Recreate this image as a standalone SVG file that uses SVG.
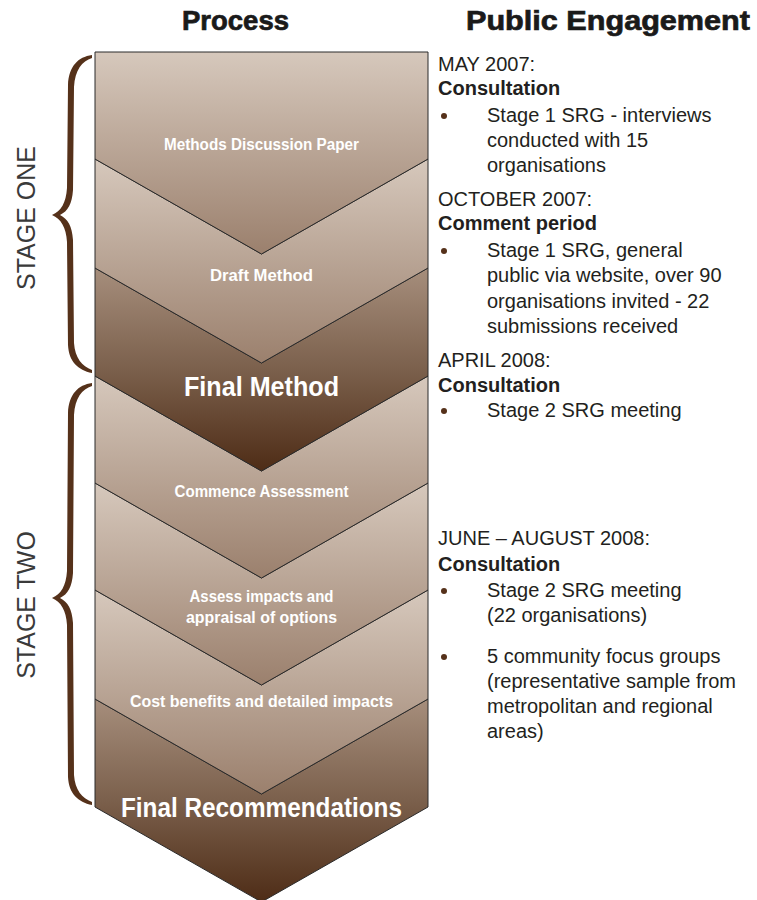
<svg xmlns="http://www.w3.org/2000/svg" width="757" height="900" viewBox="0 0 757 900">
<defs>
<linearGradient id="gLight" x1="0" y1="0" x2="0" y2="1">
<stop offset="0" stop-color="#d6c8bc"/>
<stop offset="1" stop-color="#9b806d"/>
</linearGradient>
<linearGradient id="gDark" x1="0" y1="0" x2="0" y2="1">
<stop offset="0" stop-color="#a68e7c"/>
<stop offset="0.5" stop-color="#7b604c"/>
<stop offset="1" stop-color="#4e2c16"/>
</linearGradient>
</defs>
<style>
.light{fill:url(#gLight);stroke:#2a2a2a;stroke-width:1}
.dark{fill:url(#gDark);stroke:#2a2a2a;stroke-width:1}
.lbl{font-family:"Liberation Sans",Arial,sans-serif;font-weight:bold;fill:#ffffff;text-anchor:middle;font-size:16px}
.big{font-size:27px}
.hdr{font-family:"Liberation Sans",Arial,sans-serif;font-weight:bold;fill:#1a1a1a;stroke:#1a1a1a;stroke-width:0.7;font-size:27px}
.body{font-family:"Liberation Sans",Arial,sans-serif;fill:#231f20;font-size:20px}
.bold{font-weight:bold}
.stage{font-family:"Liberation Sans",Arial,sans-serif;fill:#3a3a3a;font-size:25px;text-anchor:middle}
.brace{fill:#55311a}
.bullet{fill:#55311a}
</style>
<rect width="757" height="900" fill="#ffffff"/>
<g id="headers">
<text class="hdr" x="182" y="30" textLength="107" lengthAdjust="spacingAndGlyphs">Process</text>
<text class="hdr" x="466" y="30" textLength="284" lengthAdjust="spacingAndGlyphs">Public Engagement</text>
</g>
<g id="stage-one">
<path class="brace" d="M92,55 C78,57 69,66 68,85 L67,188 C66,203 61,211 52,215 C61,219 66,227 67,242 L68,345 C69,362 78,370 92,373 L92,370 C82,366 75,358 74,343 L73,240 C72,226 68,219 60,215 C68,211 72,204 73,190 L74,87 C75,70 82,61 92,58 Z"/>
<text class="stage" transform="translate(35,218) rotate(-90)">STAGE ONE</text>
</g>
<g id="stage-two">
<path class="brace" d="M92,383 C78,385 69,394 68,413 L67,571 C66,586 61,594 52,598 C61,602 66,610 67,625 L68,777 C69,794 78,802 92,805 L92,802 C82,798 75,790 74,775 L73,623 C72,609 68,602 60,598 C68,594 72,587 73,573 L74,415 C75,398 82,389 92,386 Z"/>
<text class="stage" transform="translate(35,605) rotate(-90)">STAGE TWO</text>
</g>
<g id="connectors"></g>
<g id="node-final-recommendations">
<path class="dark" d="M95,699 L261.5,794 L428,699 V807 L261.5,902 L95,807 Z"/>
<text class="lbl big" x="261.5" y="817" textLength="281" lengthAdjust="spacingAndGlyphs">Final Recommendations</text>
</g>
<g id="node-cost-benefits">
<path class="light" d="M95,590 L261.5,685 L428,590 V699 L261.5,794 L95,699 Z"/>
<text class="lbl" x="261.5" y="707" textLength="263" lengthAdjust="spacingAndGlyphs">Cost benefits and detailed impacts</text>
</g>
<g id="node-assess-impacts">
<path class="light" d="M95,483 L261.5,578 L428,483 V590 L261.5,685 L95,590 Z"/>
<text class="lbl" x="261.5" y="602" textLength="144" lengthAdjust="spacingAndGlyphs">Assess impacts and</text>
<text class="lbl" x="261.5" y="623" textLength="151" lengthAdjust="spacingAndGlyphs">appraisal of options</text>
</g>
<g id="node-commence-assessment">
<path class="light" d="M95,376 L261.5,471 L428,376 V483 L261.5,578 L95,483 Z"/>
<text class="lbl" x="261.5" y="497" textLength="174" lengthAdjust="spacingAndGlyphs">Commence Assessment</text>
</g>
<g id="node-final-method">
<path class="dark" d="M95,268 L261.5,363 L428,268 V376 L261.5,471 L95,376 Z"/>
<text class="lbl big" x="261.5" y="396" textLength="155" lengthAdjust="spacingAndGlyphs">Final Method</text>
</g>
<g id="node-draft-method">
<path class="light" d="M95,159 L261.5,254 L428,159 V268 L261.5,363 L95,268 Z"/>
<text class="lbl" x="261.5" y="281" textLength="103" lengthAdjust="spacingAndGlyphs">Draft Method</text>
</g>
<g id="node-methods-discussion-paper">
<path class="light" d="M95,52 H428 V159 L261.5,254 L95,159 Z"/>
<text class="lbl" x="261.5" y="150" textLength="195" lengthAdjust="spacingAndGlyphs">Methods Discussion Paper</text>
</g>
<g id="engagement">
<text class="body" x="438" y="71">MAY 2007:</text>
<text class="body bold" x="438" y="95">Consultation</text>
<circle class="bullet" cx="444" cy="116" r="3"/>
<text class="body" x="487" y="122">Stage 1 SRG - interviews</text>
<text class="body" x="487" y="147">conducted with 15</text>
<text class="body" x="487" y="172">organisations</text>
<text class="body" x="438" y="206">OCTOBER 2007:</text>
<text class="body bold" x="438" y="230">Comment period</text>
<circle class="bullet" cx="444" cy="251" r="3"/>
<text class="body" x="487" y="257">Stage 1 SRG, general</text>
<text class="body" x="487" y="282">public via website, over 90</text>
<text class="body" x="487" y="308">organisations invited - 22</text>
<text class="body" x="487" y="333">submissions received</text>
<text class="body" x="438" y="367">APRIL 2008:</text>
<text class="body bold" x="438" y="392">Consultation</text>
<circle class="bullet" cx="444" cy="411" r="3"/>
<text class="body" x="487" y="417">Stage 2 SRG meeting</text>
<text class="body" x="438" y="545">JUNE – AUGUST 2008:</text>
<text class="body bold" x="438" y="571">Consultation</text>
<circle class="bullet" cx="444" cy="591" r="3"/>
<text class="body" x="487" y="597">Stage 2 SRG meeting</text>
<text class="body" x="487" y="622">(22 organisations)</text>
<circle class="bullet" cx="444" cy="657" r="3"/>
<text class="body" x="487" y="663">5 community focus groups</text>
<text class="body" x="487" y="688">(representative sample from</text>
<text class="body" x="487" y="713">metropolitan and regional</text>
<text class="body" x="487" y="738">areas)</text>
</g>
</svg>
